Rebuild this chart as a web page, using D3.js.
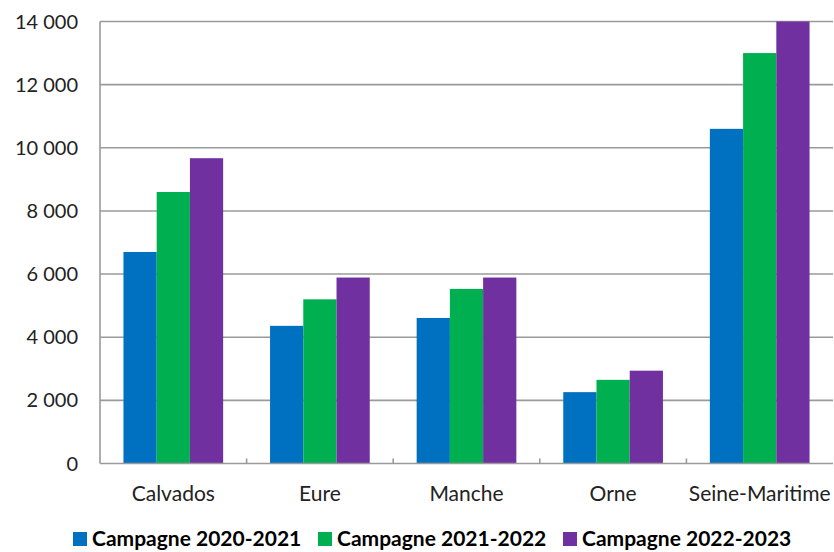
<!DOCTYPE html>
<html>
<head>
<meta charset="utf-8">
<script src="https://cdn.jsdelivr.net/npm/d3@7"></script>
<style>
  body { margin: 0; background: #fff; }
  text { font-family: Lato, "Open Sans", sans-serif; fill: #222; }
</style>
</head>
<body>
<div id="chart"></div>
<script>
// departements and campaign values
var departements = ["Calvados", "Eure", "Manche", "Orne", "Seine-Maritime"];
var campagnes = ["Campagne 2020-2021", "Campagne 2021-2022", "Campagne 2022-2023"];
var c2021 = [6700, 4360, 4610, 2260, 10600];
var c2122 = [8600, 5200, 5530, 2650, 13000];
var c2223 = [9670, 5890, 5890, 2940, 14000];
var yTicks = [0, 2000, 4000, 6000, 8000, 10000, 12000, 14000];
var colors = ["#0070C0", "#00B050", "#7030A0"];

var series = [c2021, c2122, c2223];

var width = 834, height = 552;
var plotLeft = 100, plotRight = 833, plotTop = 21.5, plotBottom = 463.5;

var svg = d3.select("#chart").append("svg")
	.attr("width", width)
	.attr("height", height);

var x0 = d3.scaleBand()
	.domain(departements)
	.range([plotLeft, plotRight])
	.paddingInner(0.32)
	.paddingOuter(0.16);

var x1 = d3.scaleBand()
	.domain(d3.range(series.length))
	.range([0, x0.bandwidth()]);

var y = d3.scaleLinear()
	.domain([0, 14000])
	.range([plotBottom, plotTop]);

var fmt = function(v) { return d3.format(",")(v).replace(/,/g, " "); };

// gridlines
svg.append("g").selectAll("line")
	.data(yTicks.slice(1))
	.enter().append("line")
	.attr("x1", plotLeft).attr("x2", plotRight)
	.attr("y1", function(d) { return y(d); })
	.attr("y2", function(d) { return y(d); })
	.style("stroke", "#9a9a9a")
	.style("stroke-width", 1.6);

// y labels
svg.append("g").selectAll("text")
	.data(yTicks)
	.enter().append("text")
	.attr("x", 78)
	.attr("y", function(d) { return y(d); })
	.attr("dy", "0.35em")
	.attr("text-anchor", "end")
	.style("font-size", "20px")
	.text(function(d) { return fmt(d); });

// bars
var groups = svg.append("g").selectAll("g")
	.data(departements)
	.enter().append("g")
	.attr("transform", function(d) { return "translate(" + x0(d) + ",0)"; });

groups.selectAll("rect")
	.data(function(d, i) { return series.map(function(s, k) { return {k: k, v: s[i]}; }); })
	.enter().append("rect")
	.attr("x", function(d) { return x1(d.k); })
	.attr("width", x1.bandwidth())
	.attr("y", function(d) { return y(d.v); })
	.attr("height", function(d) { return plotBottom - y(d.v); })
	.style("fill", function(d) { return colors[d.k]; });

// axes lines
svg.append("line")
	.attr("x1", plotLeft).attr("x2", plotLeft)
	.attr("y1", plotTop).attr("y2", plotBottom)
	.style("stroke", "#9a9a9a").style("stroke-width", 1.6);
svg.append("line")
	.attr("x1", plotLeft).attr("x2", plotRight)
	.attr("y1", plotBottom).attr("y2", plotBottom)
	.style("stroke", "#9a9a9a").style("stroke-width", 1.6);

// category boundary ticks
var step = x0.step();
svg.append("g").selectAll("line")
	.data(departements.slice(1))
	.enter().append("line")
	.attr("x1", function(d) { return x0(d) - x0.paddingOuter() * step; })
	.attr("x2", function(d) { return x0(d) - x0.paddingOuter() * step; })
	.attr("y1", plotBottom).attr("y2", plotBottom - 5)
	.style("stroke", "#9a9a9a").style("stroke-width", 1.6);

// x labels
svg.append("g").selectAll("text")
	.data(departements)
	.enter().append("text")
	.attr("x", function(d) { return x0(d) + x0.bandwidth() / 2; })
	.attr("y", 501)
	.attr("text-anchor", "middle")
	.style("font-size", "21px")
	.text(function(d) { return d; });

// legend
var legend = svg.append("g").selectAll("g")
	.data(campagnes)
	.enter().append("g")
	.attr("transform", function(d, i) { return "translate(" + (73 + i * 245) + ",532)"; });

legend.append("rect")
	.attr("width", 14).attr("height", 14)
	.style("fill", function(d, i) { return colors[i]; });

legend.append("text")
	.attr("x", 19)
	.attr("y", 14)
	.style("font-size", "21px")
	.style("font-weight", "bold")
	.style("fill", "#000")
	.text(function(d) { return d; });
</script>
</body>
</html>
